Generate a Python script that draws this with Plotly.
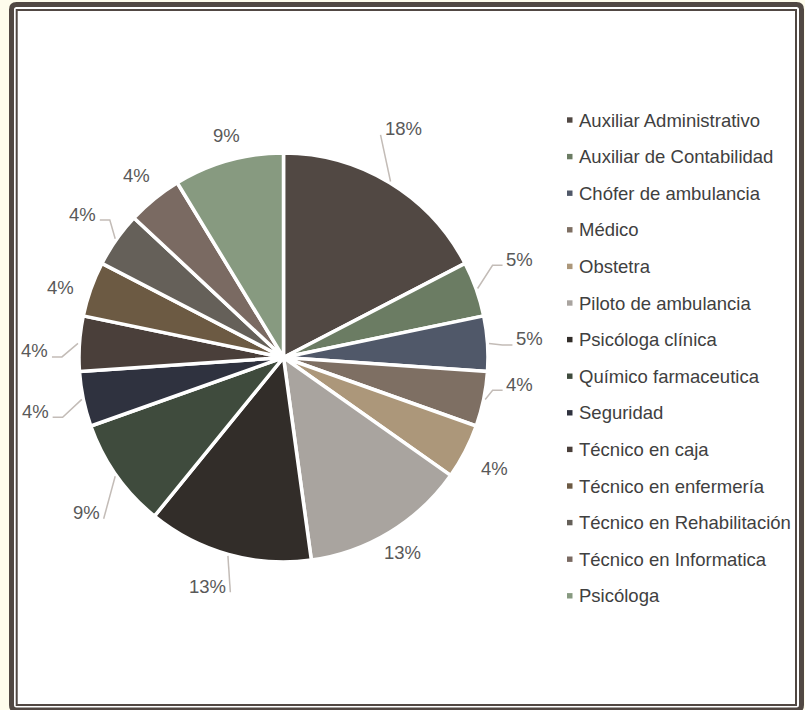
import math
import plotly.graph_objects as go

# ---------------- data ----------------
categories = [
    "Auxiliar Administrativo", "Auxiliar de Contabilidad", "Chófer de ambulancia",
    "Médico", "Obstetra", "Piloto de ambulancia", "Psicóloga clínica",
    "Químico farmaceutica", "Seguridad", "Técnico en caja", "Técnico en enfermería",
    "Técnico en Rehabilitación", "Técnico en Informatica", "Psicóloga",
]
counts = [4, 1, 1, 1, 1, 3, 3, 2, 1, 1, 1, 1, 1, 2]
pct_labels = ["18%", "5%", "5%", "4%", "4%", "13%", "13%", "9%",
              "4%", "4%", "4%", "4%", "4%", "9%"]
colors = ["#514843", "#6b7c63", "#505869", "#7e6f63", "#ac977a", "#a9a49f",
          "#322d29", "#3f4b3d", "#2f323f", "#4a3f3a", "#6c5a43", "#656059",
          "#7a6a62", "#879a80"]

# ---------------- layout constants ----------------
W, H = 805, 710
CX, CY, R = 283.5, 357.5, 204.5
FONT = "Arial, 'Liberation Sans', sans-serif"
FS = 18.5
LABEL_DIST = [258, 256, 247, 238, 239, 229, 241, 251, 254, 249, 234, 247, 234, 229]
LABEL_DANG = [-3.7, -3.0, -0.4, -5.3, 0.4, -0.1, 2.65, -3.0, -0.5, -2.4, -2.1, 0.3, 0.3, 1.35]
LEADER = [True, True, True, True, False, False, True, True, True, True, False, True, False, False]
FRAME = "#514843"


def px(x):
    return x / W


def py(y):
    return 1 - y / H


fig = go.Figure(go.Pie(
    labels=categories, values=counts, sort=False, direction="clockwise", rotation=0,
    marker=dict(colors=colors, line=dict(color="white", width=3.5)),
    textinfo="none", hoverinfo="label+percent", showlegend=False,
    domain=dict(x=[px(CX - R), px(CX + R)], y=[py(CY + R), py(CY - R)]),
))

shapes = []
annotations = []


def rrect(l, t, r, b, rad):
    rx, ry = rad / W, rad / H
    L, T, Rr, B = px(l), py(t), px(r), py(b)
    return (f"M {L+rx} {T} L {Rr-rx} {T} Q {Rr} {T} {Rr} {T-ry} L {Rr} {B+ry} "
            f"Q {Rr} {B} {Rr-rx} {B} L {L+rx} {B} Q {L} {B} {L} {B+ry} "
            f"L {L} {T-ry} Q {L} {T} {L+rx} {T} Z")


# background + double frame
shapes.append(dict(type="path", xref="paper", yref="paper", path=rrect(11.5, 4.5, 801.5, 710, 5),
                   fillcolor="white", line=dict(color=FRAME, width=5), layer="below"))
shapes.append(dict(type="rect", xref="paper", yref="paper", x0=px(16.7), x1=px(796),
                   y0=py(705), y1=py(10), line=dict(color=FRAME, width=2), layer="below"))

# data labels with leader lines
total = sum(counts)
cum = 0
for i, c in enumerate(counts):
    mid = (cum + c / 2) / total * 360
    cum += c
    a = math.radians(mid + LABEL_DANG[i])
    lx = CX + LABEL_DIST[i] * math.sin(a)
    ly = CY - LABEL_DIST[i] * math.cos(a)
    annotations.append(dict(x=px(lx), y=py(ly), xref="paper", yref="paper",
                            text=pct_labels[i], showarrow=False, xanchor="center", yanchor="middle",
                            font=dict(family=FONT, size=FS, color="#595959")))
    if LEADER[i]:
        am = math.radians(mid)
        sx = CX + (R + 1.5) * math.sin(am)
        sy = CY - (R + 1.5) * math.cos(am)
        nd = len(pct_labels[i]) - 1
        half = FS * (0.556 * nd + 0.889) / 2
        ex = lx + half + 4 if lx < sx else lx - half - 4
        ey = ly + 6
        pts = [(sx, sy)]
        if abs(sx - ex) > 13:
            pts.append((ex + 10 * (1 if sx > ex else -1), ey))
        pts.append((ex, ey))
        path = "M " + " L ".join(f"{px(x)} {py(y)}" for x, y in pts)
        shapes.append(dict(type="path", xref="paper", yref="paper", path=path,
                           line=dict(color="#c3bcb7", width=1.5)))

# legend
for i, (cat, col) in enumerate(zip(categories, colors)):
    yy = 120 + i * 36.6
    shapes.append(dict(type="rect", xref="paper", yref="paper", x0=px(567), x1=px(572.5),
                       y0=py(yy + 2.7), y1=py(yy - 2.7), fillcolor=col, line=dict(width=0)))
    annotations.append(dict(x=px(577), y=py(yy), xref="paper", yref="paper", text=cat,
                            showarrow=False, xanchor="left", yanchor="middle",
                            font=dict(family=FONT, size=FS, color="#404040")))

fig.update_layout(
    width=W, height=H, margin=dict(l=0, r=0, t=0, b=0),
    paper_bgcolor="#fefcec", plot_bgcolor="white",
    shapes=shapes, annotations=annotations, showlegend=False,
)

fig.write_html("out.html", config={"displayModeBar": False},
               post_script="document.body.style.margin='0';document.body.style.overflow='hidden';")
